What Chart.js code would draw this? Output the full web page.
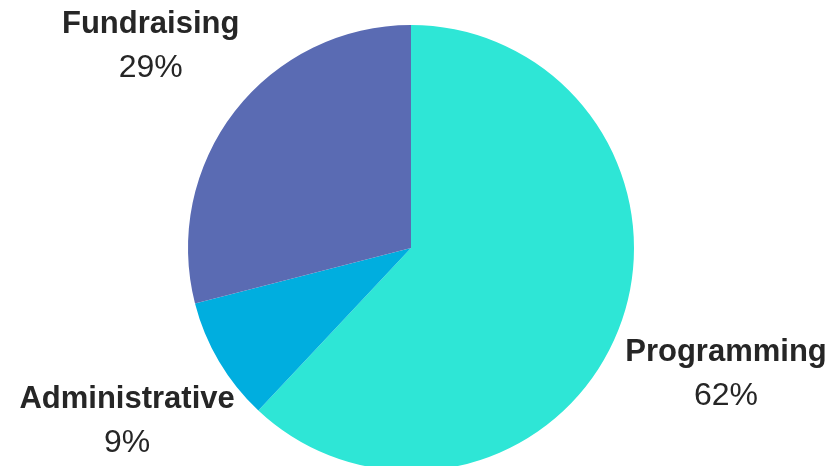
<!DOCTYPE html>
<html>
<head>
<meta charset="utf-8">
<script src="https://cdn.jsdelivr.net/npm/chart.js@4/dist/chart.umd.min.js"></script>
<style>
  html, body { margin: 0; padding: 0; overflow: hidden; background: #fff; }
  #wrap { width: 837px; height: 496px; position: relative; }
</style>
</head>
<body>
<div id="wrap"><canvas id="budgetPie"></canvas></div>
<script>
const categories = ['Programming', 'Administrative', 'Fundraising'];
const shares     = [62, 9, 29];
const colors     = ['#2ee6d6', '#00aedf', '#5a6bb3'];

// names + percentages placed outside each slice along its mid angle
const outsideLabels = {
  id: 'outsideLabels',
  afterDatasetsDraw(chart) {
    const ctx  = chart.ctx;
    const meta = chart.getDatasetMeta(0);
    ctx.save();
    ctx.fillStyle    = '#262626';
    ctx.textAlign    = 'center';
    ctx.textBaseline = 'alphabetic';
    meta.data.forEach((arc, i) => {
      const mid  = (arc.startAngle + arc.endAngle) / 2;
      const dist = arc.outerRadius * 1.5;
      const x = arc.x + Math.cos(mid) * dist + 4;
      const y = arc.y + Math.sin(mid) * dist;
      ctx.font = 'bold 31px "Liberation Sans", Arial, sans-serif';
      ctx.fillText(chart.data.labels[i], x, y - 10);
      ctx.font = '32px "Liberation Sans", Arial, sans-serif';
      ctx.fillText(chart.data.datasets[0].data[i] + '%', x, y + 34);
    });
    ctx.restore();
  }
};

new Chart(document.getElementById('budgetPie'), {
  type: 'pie',
  data: {
    labels: categories,
    datasets: [{
      data           : shares,
      backgroundColor: colors,
      borderWidth    : 0
    }]
  },
  options: {
    responsive: true,
    maintainAspectRatio: false,
    animation: false,
    layout: { padding: { top: 25, bottom: 25, left: 0, right: 15 } },
    plugins: {
      legend : { display: false },
      tooltip: { enabled: false }
    }
  },
  plugins: [outsideLabels]
});
</script>
</body>
</html>
